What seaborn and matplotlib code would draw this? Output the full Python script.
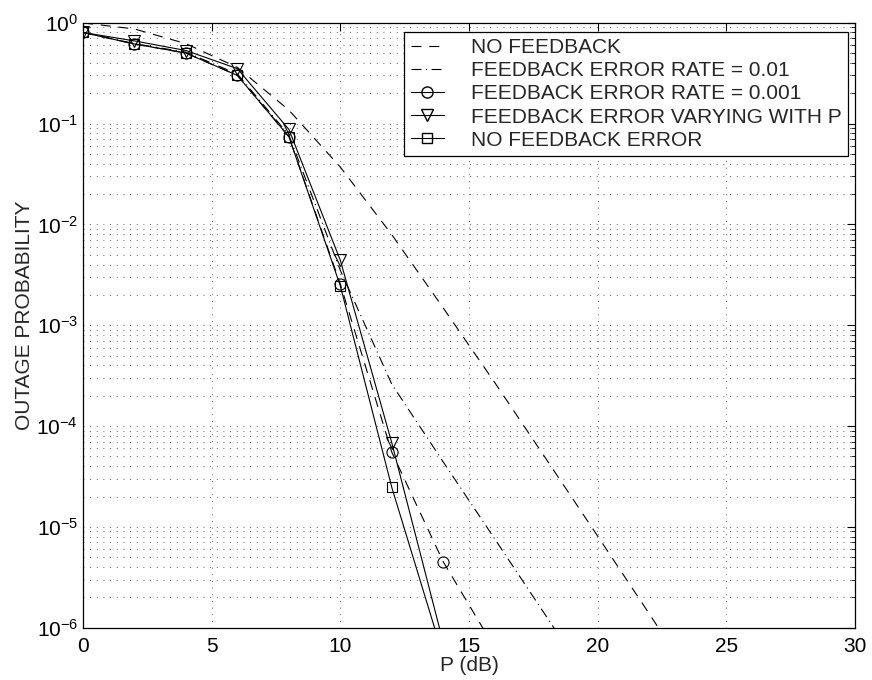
import numpy as np
import pandas as pd
import matplotlib
matplotlib.use("Agg")
import matplotlib.pyplot as plt
from matplotlib.lines import Line2D
from matplotlib.ticker import LogLocator, FixedLocator, NullFormatter
import seaborn as sns

# P (dB) grid for each curve and the outage probabilities
p_nofb = [0, 2, 4, 6, 8, 10, 12, 14, 16, 18, 20, 22, 24]
out_nofb = [0.995, 0.867, 0.62, 0.36, 0.136, 0.037, 7.9e-3, 1.48e-3, 2.7e-4, 4.7e-5, 8.1e-6, 1.38e-6, 2.3e-7]

p_fb01 = [0, 2, 4, 6, 8, 10, 12, 14, 16, 18, 20]
out_fb01 = [0.80, 0.62, 0.51, 0.31, 0.077, 3.5e-3, 2.6e-4, 4.4e-5, 7.6e-6, 1.3e-6, 2.2e-7]

p_fb001 = [0, 2, 4, 6, 8, 10, 12, 14, 16]
out_fb001 = [0.80, 0.615, 0.50, 0.30, 0.074, 2.56e-3, 5.5e-5, 4.5e-6, 6.3e-7]

p_vary = [0, 2, 4, 6, 8, 10, 12, 14]
out_vary = [0.80, 0.66, 0.53, 0.35, 0.0875, 4.4e-3, 6.8e-5, 7.1e-7]

p_nofe = [0, 2, 4, 6, 8, 10, 12, 14]
out_nofe = [0.80, 0.615, 0.50, 0.30, 0.074, 2.45e-3, 2.46e-5, 5.2e-7]

labels = ["NO FEEDBACK", "FEEDBACK ERROR RATE = 0.01", "FEEDBACK ERROR RATE = 0.001",
          "FEEDBACK ERROR VARYING WITH P", "NO FEEDBACK ERROR"]

sns.set_style("white")
plt.rcParams['font.family'] = ['Liberation Sans', 'DejaVu Sans']
plt.rcParams['font.size'] = 15

fig = plt.figure(figsize=(8.72, 6.80), dpi=100)
ax = fig.add_axes([0.0952, 0.0769, 0.8853, 0.8897])

dash = (0, (9, 7))
dashdot = (0, (9, 4, 1, 4))
lw = 0.8

sns.lineplot(x=p_nofb, y=out_nofb, ax=ax, color='k', lw=lw, linestyle=dash)
sns.lineplot(x=p_fb01, y=out_fb01, ax=ax, color='k', lw=lw, linestyle=dashdot)
sns.lineplot(x=p_fb001, y=out_fb001, ax=ax, color='k', lw=lw, linestyle=dash,
             marker='o', ms=8, mfc='none', mec='k', mew=0.8)
sns.lineplot(x=p_vary, y=out_vary, ax=ax, color='k', lw=lw, linestyle='-',
             marker='v', ms=8, mfc='none', mec='k', mew=0.8)
sns.lineplot(x=p_nofe, y=out_nofe, ax=ax, color='k', lw=lw, linestyle='-',
             marker='s', ms=6.5, mfc='none', mec='k', mew=0.8)

ax.set_yscale('log')
ax.set_xlim(0, 30)
ax.set_ylim(1e-6, 1)
ax.xaxis.set_major_locator(FixedLocator([0, 5, 10, 15, 20, 25, 30]))
ax.yaxis.set_major_locator(LogLocator(base=10, numticks=10))
ax.yaxis.set_minor_locator(LogLocator(base=10, subs=np.arange(2, 10), numticks=20))
ax.yaxis.set_minor_formatter(NullFormatter())

# matlab style dotted grid
grid_kw = dict(color='0.2', lw=0.6, linestyle=(0, (1, 7)))
ax.grid(True, which='major', axis='both', **grid_kw)
ax.grid(True, which='minor', axis='y', **grid_kw)
ax.set_axisbelow(True)

ax.tick_params(which='both', direction='in', top=True, right=True, labelsize=15, colors='k')
ax.tick_params(which='major', length=6, width=0.8)
ax.tick_params(which='minor', length=3, width=0.6)
ax.tick_params(axis='x', which='major', pad=7)
ax.tick_params(axis='y', which='major', pad=3.5)
for s in ax.spines.values():
    s.set_color('k')
    s.set_linewidth(0.9)

ax.set_xlabel("P (dB)", fontsize=15, labelpad=0)
ax.set_ylabel("OUTAGE PROBABILITY", fontsize=15, labelpad=2)
ax.yaxis.label.set_y(0.516)

handles = [
    Line2D([], [], color='k', lw=lw, linestyle=dash),
    Line2D([], [], color='k', lw=lw, linestyle=dashdot),
    Line2D([], [], color='k', lw=lw, marker='o', ms=8, mfc='none', mec='k'),
    Line2D([], [], color='k', lw=lw, marker='v', ms=8, mfc='none', mec='k'),
    Line2D([], [], color='k', lw=lw, marker='s', ms=6.5, mfc='none', mec='k'),
]
leg = ax.legend(handles, labels, loc='upper right', bbox_to_anchor=(0.991, 0.985),
                fontsize=15, frameon=True, fancybox=False, framealpha=1,
                edgecolor='k', handlelength=1.6, handletextpad=1.3,
                labelspacing=0.2, borderpad=0.3, borderaxespad=0)
leg.get_frame().set_linewidth(0.9)

fig.savefig("out.png", dpi=100)
